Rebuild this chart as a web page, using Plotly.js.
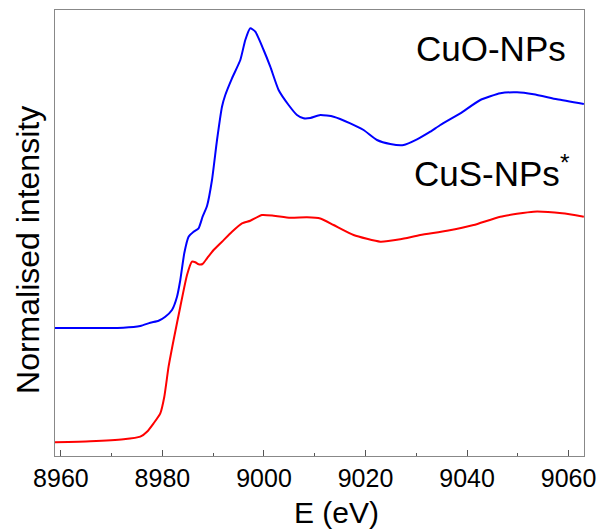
<!DOCTYPE html>
<html>
<head>
<meta charset="utf-8">
<script src="https://cdn.plot.ly/plotly-3.0.1.min.js"></script>
<style>html,body{margin:0;padding:0;background:#fff;}#chart{width:600px;height:531px;}</style>
</head>
<body>
<div id="chart"></div>
<script>
// CuO-NPs spectrum (offset), energy in eV
const cuoEnergy = [8958.84, 8965.79, 8972.29, 8975.64, 8977.61, 8979.24, 8980.56, 8981.88, 8982.87, 8983.52, 8984.31, 8985.15, 8986.14, 8987.12, 8987.91, 8988.78, 8989.76, 8990.75, 8991.73, 8992.38, 8993.70, 8995.34, 8996.32, 8997.30, 8998.29, 8999.93, 9001.24, 9002.88, 9004.85, 9006.50, 9007.80, 9009.12, 9011.09, 9013.71, 9017.00, 9019.62, 9022.26, 9024.88, 9027.50, 9030.14, 9032.76, 9034.73, 9038.67, 9042.61, 9046.55, 9049.84, 9053.11, 9057.72, 9063.0];
const cuoIntensity = [1.28, 1.28, 1.283, 1.30, 1.333, 1.353, 1.393, 1.46, 1.593, 1.76, 2.03, 2.193, 2.243, 2.277, 2.393, 2.50, 2.76, 3.16, 3.493, 3.61, 3.777, 3.96, 4.16, 4.277, 4.243, 4.06, 3.893, 3.66, 3.51, 3.41, 3.377, 3.38, 3.41, 3.393, 3.327, 3.26, 3.16, 3.12, 3.11, 3.167, 3.243, 3.31, 3.427, 3.56, 3.627, 3.637, 3.617, 3.567, 3.52];

// CuS-NPs spectrum
const cusEnergy = [8958.84, 8965.79, 8972.35, 8975.64, 8976.96, 8978.26, 8979.58, 8980.37, 8981.21, 8982.20, 8983.52, 8984.84, 8985.82, 8986.47, 8987.12, 8987.91, 8988.78, 8990.08, 8991.73, 8993.70, 8995.67, 8997.30, 8999.61, 9001.90, 9005.18, 9008.47, 9011.09, 9013.71, 9017.65, 9022.91, 9026.84, 9030.78, 9036.05, 9041.29, 9046.55, 9053.11, 9058.72, 9063.0];
const cusIntensity = [0.137, 0.147, 0.167, 0.193, 0.243, 0.327, 0.427, 0.593, 0.893, 1.16, 1.493, 1.81, 1.943, 1.937, 1.917, 1.92, 1.977, 2.06, 2.143, 2.243, 2.327, 2.353, 2.41, 2.403, 2.383, 2.387, 2.375, 2.31, 2.21, 2.143, 2.167, 2.21, 2.253, 2.31, 2.393, 2.443, 2.427, 2.393];

const xTickVals = [8960, 8980, 9000, 9020, 9040, 9060];
const xTickText = ["8960", "8980", "9000", "9020", "9040", "9060"];
const seriesNames = ["CuO-NPs", "CuS-NPs<sup>*</sup>"];
const xTitle = "E (eV)";
const yTitle = "Normalised intensity";

const font = "Liberation Sans, Arial, sans-serif";

const traces = [
  {x: cuoEnergy, y: cuoIntensity, type: "scatter", mode: "lines", name: seriesNames[0],
   line: {color: "#0000ff", width: 2, shape: "spline", smoothing: 0.5}},
  {x: cusEnergy, y: cusIntensity, type: "scatter", mode: "lines", name: seriesNames[1],
   line: {color: "#ff0000", width: 2, shape: "spline", smoothing: 0.5}}
];

const layout = {
  width: 600, height: 531,
  margin: {l: 55, r: 16, t: 10, b: 75},
  paper_bgcolor: "#fff", plot_bgcolor: "#fff",
  showlegend: false,
  font: {family: font, color: "#000"},
  xaxis: {
    range: [8958.84, 9063.03],
    tickvals: xTickVals, ticktext: xTickText,
    ticks: "inside", ticklen: 6, tickwidth: 1, tickcolor: "#555",
    minor: {dtick: 10, tick0: 8960, ticks: "inside", ticklen: 3, tickcolor: "#555", showgrid: false},
    showline: true, linecolor: "#888", linewidth: 1, mirror: true,
    showgrid: false, zeroline: false,
    tickfont: {size: 25, family: font, color: "#000"}
  },
  yaxis: {
    range: [0, 4.46],
    showticklabels: false, ticks: "",
    showline: true, linecolor: "#888", linewidth: 1, mirror: true,
    showgrid: false, zeroline: false
  },
  annotations: [
    {x: 9029.6, y: 4.08, xref: "x", yref: "y", text: seriesNames[0], showarrow: false,
     xanchor: "left", yanchor: "middle", font: {size: 35, family: font, color: "#000"}},
    {x: 9029.2, y: 2.85, xref: "x", yref: "y", text: seriesNames[1], showarrow: false,
     xanchor: "left", yanchor: "middle", font: {size: 35, family: font, color: "#000"}},
    {x: 0.533, y: 0, xref: "paper", yref: "paper", yshift: -56, text: xTitle, showarrow: false,
     xanchor: "center", yanchor: "middle", font: {size: 30, family: font, color: "#000"}},
    {x: 0, y: 0.462, xref: "paper", yref: "paper", xshift: -27, text: yTitle, showarrow: false,
     textangle: -90, xanchor: "center", yanchor: "middle", font: {size: 32, family: font, color: "#000"}}
  ]
};

Plotly.newPlot("chart", traces, layout, {displayModeBar: false, staticPlot: true});
</script>
</body>
</html>
